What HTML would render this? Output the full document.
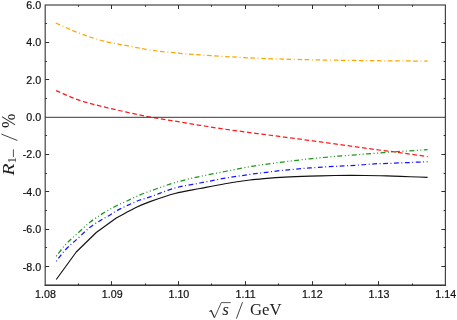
<!DOCTYPE html>
<html><head><meta charset="utf-8"><title>plot</title>
<style>html,body{margin:0;padding:0;background:#fff;}body{width:457px;height:320px;overflow:hidden;position:relative;font-family:"Liberation Sans",sans-serif;}</style></head>
<body>
<svg width="457" height="320" viewBox="0 0 457 320" style="position:absolute;left:0;top:0;will-change:transform">
<rect width="457" height="320" fill="#fff"/>
<g fill="none" stroke-width="1.25" stroke-linecap="butt" stroke-linejoin="round">
<path d="M55.75 23.00 C63.00 26.17 70.25 29.75 77.50 32.50 C85.83 35.66 94.17 38.54 102.50 40.75 C111.00 43.01 119.50 44.24 128.00 45.90 C135.33 47.33 142.67 48.94 150.00 50.00 C159.33 51.34 168.67 52.22 178.00 53.10 C187.67 54.02 197.33 54.79 207.00 55.40 C224.67 56.52 242.33 57.58 260.00 58.30 C279.00 59.08 298.00 59.50 317.00 59.90 C336.00 60.30 355.00 60.49 374.00 60.70 C391.87 60.89 409.73 60.97 427.60 61.10" stroke="#ffa500" stroke-dasharray="4.6 2.5 4.6 2.8 0.9 2.7" stroke-dashoffset="7.1"/>
<path d="M56.00 90.60 C63.17 93.60 70.33 97.13 77.50 99.60 C85.83 102.47 94.17 104.48 102.50 106.60 C110.83 108.72 119.17 110.48 127.50 112.30 C135.00 113.94 142.50 115.59 150.00 117.00 C158.33 118.56 166.67 119.82 175.00 121.20 C183.33 122.58 191.67 123.97 200.00 125.30 C208.33 126.63 216.67 127.98 225.00 129.20 C233.33 130.42 241.67 131.49 250.00 132.60 C254.67 133.22 259.33 133.79 264.00 134.40 C271.00 135.32 278.00 136.27 285.00 137.20 C293.33 138.31 301.67 139.38 310.00 140.50 C318.33 141.62 326.67 142.75 335.00 143.90 C343.33 145.05 351.67 146.22 360.00 147.40 C364.67 148.06 369.33 148.79 374.00 149.40 C380.33 150.23 386.67 150.85 393.00 151.70 C404.53 153.25 416.07 154.97 427.60 156.60" stroke="#ff1a1a" stroke-dasharray="4.6 2.66" stroke-dashoffset="0"/>
<path d="M56.25 256.25 C59.17 252.57 62.08 248.34 65.00 245.20 C69.17 240.72 73.33 237.23 77.50 233.40 C81.67 229.57 85.83 225.50 90.00 222.20 C94.17 218.90 98.33 216.22 102.50 213.60 C106.67 210.98 110.83 208.65 115.00 206.50 C119.17 204.35 123.33 202.63 127.50 200.70 C131.67 198.77 135.83 196.68 140.00 194.90 C143.33 193.48 146.67 192.27 150.00 191.10 C158.33 188.17 166.67 185.05 175.00 182.60 C183.33 180.15 191.67 178.25 200.00 176.40 C208.33 174.55 216.67 173.13 225.00 171.50 C233.33 169.87 241.67 168.10 250.00 166.60 C254.67 165.76 259.33 165.15 264.00 164.50 C271.00 163.53 278.00 162.62 285.00 161.75 C293.33 160.72 301.67 159.69 310.00 158.80 C318.33 157.91 326.67 157.12 335.00 156.40 C343.33 155.68 351.67 155.16 360.00 154.50 C364.67 154.13 369.33 153.67 374.00 153.30 C380.33 152.80 386.67 152.33 393.00 151.90 C404.53 151.13 416.07 150.43 427.60 149.70" stroke="#1a961a" stroke-dasharray="5 2.55 1 2.45 1 2.45" stroke-dashoffset="11.0"/>
<path d="M56.25 261.25 C59.17 257.58 62.08 253.35 65.00 250.25 C69.17 245.83 73.33 242.53 77.50 238.70 C81.67 234.87 85.83 230.58 90.00 227.25 C93.33 224.58 96.67 222.74 100.00 220.70 C103.33 218.66 106.67 217.00 110.00 215.00 C111.67 214.00 113.33 212.61 115.00 211.70 C119.17 209.41 123.33 207.35 127.50 205.40 C131.67 203.45 135.83 201.57 140.00 200.00 C143.33 198.74 146.67 198.04 150.00 196.90 C158.33 194.04 166.67 190.32 175.00 188.00 C183.33 185.68 191.67 184.63 200.00 183.00 C208.33 181.37 216.67 179.63 225.00 178.20 C233.33 176.77 241.67 175.60 250.00 174.40 C254.67 173.73 259.33 173.17 264.00 172.60 C271.00 171.74 278.00 170.82 285.00 170.10 C293.33 169.25 301.67 168.52 310.00 167.90 C318.33 167.28 326.67 166.88 335.00 166.40 C343.33 165.92 351.67 165.53 360.00 165.00 C364.67 164.70 369.33 164.15 374.00 163.90 C380.33 163.55 386.67 163.45 393.00 163.20 C404.53 162.74 416.07 162.23 427.60 161.75" stroke="#1414ff" stroke-dasharray="4.8 2.57 0.9 2.62" stroke-dashoffset="7.369999999999999"/>
<path d="M56.25 279.50 L76.25 252.00 L96.25 232.50 L116.25 218.00 C123.17 214.37 130.08 210.46 137.00 207.10 C141.33 204.99 145.67 203.15 150.00 201.60 C158.33 198.62 166.67 195.68 175.00 193.50 C183.33 191.32 191.67 190.12 200.00 188.50 C208.33 186.88 216.67 185.17 225.00 183.75 C233.33 182.33 241.67 181.10 250.00 180.00 C254.67 179.38 259.33 178.99 264.00 178.60 C271.00 178.02 278.00 177.48 285.00 177.10 C293.33 176.65 301.67 176.37 310.00 176.10 C318.33 175.83 326.67 175.66 335.00 175.50 C340.00 175.41 345.00 175.36 350.00 175.35 C355.00 175.34 360.00 175.38 365.00 175.45 C370.00 175.52 375.00 175.63 380.00 175.75 C384.33 175.85 388.67 175.96 393.00 176.10 C398.67 176.28 404.33 176.49 410.00 176.70 C415.87 176.92 421.73 177.17 427.60 177.40" stroke="#111" stroke-width="1.15"/>
</g>
<g fill="none" stroke="#444" stroke-width="1.2" stroke-linecap="butt">
<rect x="45.20" y="5.00" width="400.20" height="280.20"/>
<line x1="44.60" y1="285.20" x2="446.00" y2="285.20" stroke-width="1.15" stroke="#2a2a2a"/>
<line x1="45.20" y1="117.30" x2="445.40" y2="117.30" stroke-width="1.0" stroke="#383838"/>
</g>
<g fill="none" stroke="#2e2e2e" stroke-width="1.0">
<path d="M78.50 285.20v-1.80M78.50 5.00v1.80"/>
<path d="M111.50 285.20v-4.00M111.50 5.00v4.00"/>
<path d="M145.50 285.20v-1.80M145.50 5.00v1.80"/>
<path d="M178.50 285.20v-4.00M178.50 5.00v4.00"/>
<path d="M211.50 285.20v-1.80M211.50 5.00v1.80"/>
<path d="M245.50 285.20v-4.00M245.50 5.00v4.00"/>
<path d="M278.50 285.20v-1.80M278.50 5.00v1.80"/>
<path d="M312.50 285.20v-4.00M312.50 5.00v4.00"/>
<path d="M345.50 285.20v-1.80M345.50 5.00v1.80"/>
<path d="M378.50 285.20v-4.00M378.50 5.00v4.00"/>
<path d="M412.50 285.20v-1.80M412.50 5.00v1.80"/>
<path d="M45.20 266.50h4.00M445.40 266.50h-4.00"/>
<path d="M45.20 247.50h1.80M445.40 247.50h-1.80"/>
<path d="M45.20 229.50h4.00M445.40 229.50h-4.00"/>
<path d="M45.20 210.50h1.80M445.40 210.50h-1.80"/>
<path d="M45.20 191.50h4.00M445.40 191.50h-4.00"/>
<path d="M45.20 173.50h1.80M445.40 173.50h-1.80"/>
<path d="M45.20 154.50h4.00M445.40 154.50h-4.00"/>
<path d="M45.20 135.50h1.80M445.40 135.50h-1.80"/>
<path d="M45.20 98.50h1.80M445.40 98.50h-1.80"/>
<path d="M45.20 79.50h4.00M445.40 79.50h-4.00"/>
<path d="M45.20 61.50h1.80M445.40 61.50h-1.80"/>
<path d="M45.20 42.50h4.00M445.40 42.50h-4.00"/>
<path d="M45.20 23.50h1.80M445.40 23.50h-1.80"/>
</g>
<g font-family="Liberation Sans, sans-serif" font-size="10.7" fill="#111" stroke="#111" stroke-width="0.2">
<text x="41.20" y="9.00" text-anchor="end">6.0</text>
<text x="41.20" y="46.36" text-anchor="end">4.0</text>
<text x="41.20" y="83.72" text-anchor="end">2.0</text>
<text x="41.20" y="121.08" text-anchor="end">0.0</text>
<text x="41.20" y="158.44" text-anchor="end">-2.0</text>
<text x="41.20" y="195.80" text-anchor="end">-4.0</text>
<text x="41.20" y="233.16" text-anchor="end">-6.0</text>
<text x="41.20" y="270.52" text-anchor="end">-8.0</text>
<text x="45.50" y="297.60" text-anchor="middle">1.08</text>
<text x="112.20" y="297.60" text-anchor="middle">1.09</text>
<text x="178.90" y="297.60" text-anchor="middle">1.10</text>
<text x="245.60" y="297.60" text-anchor="middle">1.11</text>
<text x="312.30" y="297.60" text-anchor="middle">1.12</text>
<text x="379.00" y="297.60" text-anchor="middle">1.13</text>
<text x="445.70" y="297.60" text-anchor="middle">1.14</text>
</g>
<g font-family="Liberation Serif, serif" fill="#222">
<path d="M214.4 318.0 L221.3 302.6 L230.7 302.6" fill="none" stroke="#222" stroke-width="0.75" stroke-linejoin="miter"/>
<path d="M209.5 311.6 L211.2 310.6 L214.4 317.6" fill="none" stroke="#222" stroke-width="1.2"/>
<text x="222.2" y="314.7" font-size="17" font-style="italic">s</text>
<path d="M236.4 318.6 L242.5 302.2" fill="none" stroke="#222" stroke-width="0.85"/>
<text x="250.0" y="314.7" font-size="17" textLength="31.6" lengthAdjust="spacingAndGlyphs">GeV</text>
<text transform="translate(14.3 175.4) rotate(-90) scale(1.12 1)" font-size="17.5" font-style="italic">R</text>
<text transform="translate(16.2 163.2) rotate(-90) scale(1 1)" font-size="12.5">1</text>
<path d="M13.4 157 V149.4" fill="none" stroke="#222" stroke-width="0.8"/>
<path d="M17.4 140.5 L1.4 134.1" fill="none" stroke="#222" stroke-width="0.85"/>
<text transform="translate(14.6 127.9) rotate(-90) scale(0.88 1)" font-size="19.5">%</text>
</g>
</svg>
</body></html>
